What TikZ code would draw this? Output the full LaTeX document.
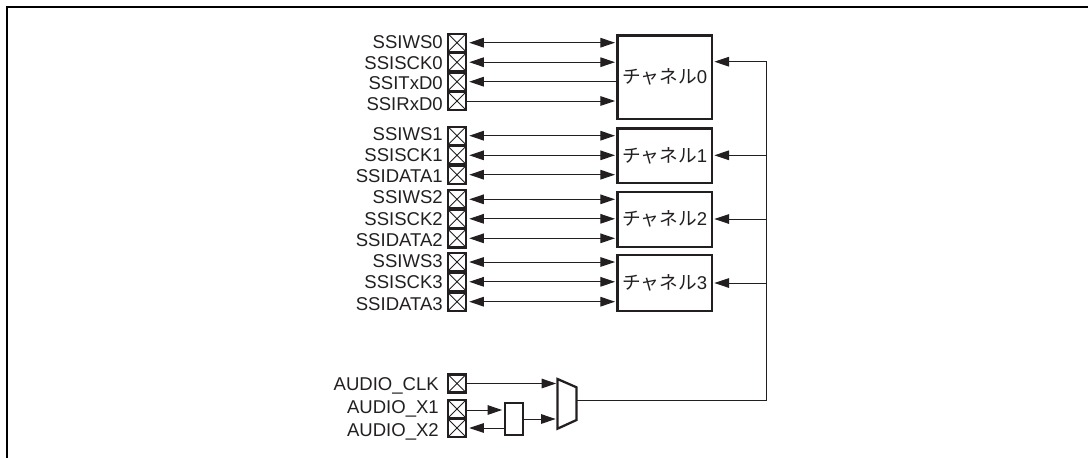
\documentclass[tikz,border=0pt]{standalone}
\usepackage{fontspec}
\setmainfont{Liberation Sans}
\newfontfamily\jpf{Noto Sans CJK JP}
\usetikzlibrary{arrows.meta}
\definecolor{ink}{HTML}{231F20}
\newcommand{\chan}[1]{{\jpf\fontsize{14}{16}\selectfont チャネル}#1}
\tikzset{
  x=0.75pt,y=-0.75pt,
  ink line/.style={draw=ink,line width=0.75pt},
  tipr/.style={ink line,-{Triangle[length=11pt,width=7.2pt]},shorten >=1pt},
  tipl/.style={ink line,{Triangle[length=11pt,width=7.2pt]}-,shorten <=1.5pt},
  tipb/.style={ink line,{Triangle[length=11pt,width=7.2pt]}-{Triangle[length=11pt,width=7.2pt]},shorten <=1.5pt,shorten >=1pt},
  pin/.style={draw=ink,line width=1.7pt,fill=white,minimum width=13.6pt,minimum height=13.6pt,inner sep=0pt,
    path picture={\draw[ink,line width=0.7pt]
      (path picture bounding box.south west)--(path picture bounding box.north east)
      (path picture bounding box.north west)--(path picture bounding box.south east);}},
  pinlabel/.style={anchor=base east,text=ink,inner sep=0pt,font=\fontsize{13.9}{16}\selectfont},
  chbox/.style={draw=ink,line width=1.9pt,fill=white,minimum width=70.6pt,inner sep=0pt,text=ink,font=\fontsize{13.9}{16}\selectfont},
  frameline/.style={draw=black,line width=1.6pt,line cap=rect},
}
\begin{document}
\begin{tikzpicture}
\useasboundingbox (0,0) rectangle (1088,457);
\draw[frameline] (7,457) -- (7,7) -- (1088,7);
% channel boxes
\node[chbox,minimum height=62.8pt] (c0) at (664.7,77.3) {\chan{0}};
\node[chbox,minimum height=41pt] (c1) at (664.7,155.8) {\chan{1}};
\node[chbox,minimum height=41.3pt] (c2) at (664.7,219.3) {\chan{2}};
\node[chbox,minimum height=41.8pt] (c3) at (664.7,283) {\chan{3}};
% pins and labels
\foreach \n/\y/\b/\t in {
  a0/42.7/48.3/SSIWS0,a1/62.2/69/SSISCK0,a2/81.7/89.5/SSITxD0,a3/101/110.5/SSIRxD0,
  b0/135.7/140.7/SSIWS1,b1/155.3/161.7/SSISCK1,b2/174.7/182.7/SSIDATA1,
  d0/199.3/203.3/SSIWS2,d1/218.8/225/SSISCK2,d2/238.3/246/SSIDATA2,
  e0/262/267.3/SSIWS3,e1/281.8/288.3/SSISCK3,e2/301.7/310/SSIDATA3}{
  \node[pin] (\n) at (457,\y) {};
  \node[pinlabel] (l\n) at (443,\b) {\t};
}
\foreach \n/\y/\b/\t in {clk/383.5/390/AUDIO\_CLK,xa/409/413.3/AUDIO\_X1,xb/428/436/AUDIO\_X2}{
  \node[pin] (\n) at (457,\y) {};
  \node[pinlabel] (l\n) at (439,\b) {\t};
}
% pin to channel connectors
\draw[tipb] (a0.east) -- (a0.east -| c0.west);
\draw[tipb] (a1.east) -- (a1.east -| c0.west);
\draw[tipl] (a2.east) -- (a2.east -| c0.west);
\draw[tipr] (a3.east) -- (a3.east -| c0.west);
\foreach \p/\c in {b0/c1,b1/c1,b2/c1,d0/c2,d1/c2,d2/c2,e0/c3,e1/c3,e2/c3}{
  \draw[tipb] (\p.east) -- (\p.east -| \c.west);
}
% audio divider box and selector
\node[draw=ink,line width=1.7pt,fill=white,minimum width=13.6pt,minimum height=24pt,inner sep=0pt] (osc) at (513.7,419.2) {};
\coordinate (mlt) at (557.5,379);
\coordinate (mlb) at (557.5,428.7);
\coordinate (mrt) at (576.5,387.3);
\coordinate (mrb) at (576.5,420);
\coordinate (mout) at (576.5,400.3);
\draw[ink,line width=1.7pt,line join=miter,fill=white] (mlt) -- (mrt) -- (mrb) -- (mlb) -- cycle;
\coordinate (minb) at (557,419);
\draw[tipr] (clk.east) -- (clk.east -| mlt);
\draw[tipr] ([yshift=-0.75pt]xa.east) -- ([yshift=-0.75pt]xa.east -| osc.west);
\draw[tipl] (xb.east) -- (xb.east -| osc.west);
\draw[tipr] (osc.east |- minb) -- (minb);
% clock bus
\coordinate (bust) at (766.7,61.7);
\coordinate (bus1) at (766.7,155.3);
\coordinate (bus2) at (766.7,219);
\coordinate (bus3) at (766.7,283);
\draw[tipr] (mout) -| (bust) -- (bust -| c0.east);
\draw[tipr] (bus1) -- (bus1 -| c1.east);
\draw[tipr] (bus2) -- (bus2 -| c2.east);
\draw[tipr] (bus3) -- (bus3 -| c3.east);
\end{tikzpicture}
\end{document}
